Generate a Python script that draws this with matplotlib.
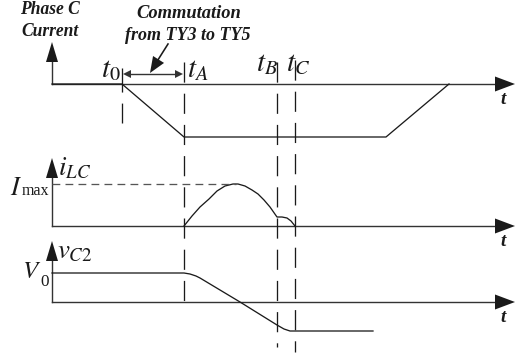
import numpy as np
import matplotlib
matplotlib.use('Agg')
import matplotlib.pyplot as plt

plt.rcParams['mathtext.fontset'] = 'stix'
plt.rcParams['font.family'] = ['Liberation Serif', 'DejaVu Serif']

# time instants (horizontal position on the sheet)
t_axis = 52
t_0, t_A, t_B, t_C = 122, 184, 277, 295
t_end = 515

# baselines of the three traces and tops of their vertical arrows
base = [84, 226, 302]
top = [42, 158, 241]

# phase C current (heights above its baseline)
ic_t = [t_axis, t_0, t_A, 386, 449]
ic_v = [0, 0, -53, -53, 0]

# resonant inductor current i_LC
ilc_t = [t_A, 192, 200, 209, 217, 225, 233, 238, 245, 252, 258, 264, 270, t_B,
         282, 287, 291, t_C]
ilc_v = [0, 10, 19, 27, 35, 40, 42, 42, 40, 36, 32, 26, 19, 9,
         9, 8, 5, 0]
i_max = 42

# capacitor voltage v_C2
vc_t = [t_axis, t_A, 190, 196, 200, 240, t_B, 284, 290, t_C, 373]
vc_v = [29, 29, 28, 26, 24, 0, -23, -27, -29, -29, -29]
v0 = 29

fig = plt.figure(figsize=(519 / 72, 358 / 72), dpi=72)
ax = fig.add_axes([0, 0, 1, 1])
ax.set_xlim(0, 519)
ax.set_ylim(358, 0)
ax.axis('off')

ink = '#1a1a1a'
axis_c = '#333333'


def head(tip, direction, length, width, color=ink):
    tip = np.array(tip, float)
    d = np.array(direction, float)
    d = d / np.hypot(*d)
    n = np.array([-d[1], d[0]])
    b = tip - d * length
    pts = np.array([tip, b + n * width / 2, b - n * width / 2])
    ax.fill(pts[:, 0], pts[:, 1], color=color, lw=0, zorder=5)


# axes of each trace
for yb, yt in zip(base, top):
    ax.plot([t_axis, t_end - 15], [yb, yb], color=axis_c, lw=1.4)
    head((t_end, yb), (1, 0), 20, 15)
    ax.plot([t_axis, t_axis], [yb, yt + 15], color=axis_c, lw=1.4)
    head((t_axis, yt), (0, -1), 20, 12)
    ax.text(503, yb + 16, 't', fontsize=19, fontweight='bold', style='italic',
            ha='center', va='center', color=ink)

# waveforms
ax.plot(ic_t, base[0] - np.array(ic_v), color=ink, lw=1.3)
ax.plot(ilc_t, base[1] - np.array(ilc_v), color=ink, lw=1.3)
ax.plot(vc_t, base[2] - np.array(vc_v), color=ink, lw=1.3)

# I_max reference
ax.plot([t_axis, 236], [base[1] - i_max] * 2, color='#555555', lw=1.3,
        dashes=(6, 4))

# instants
dash = dict(color=ink, lw=1.3, dashes=(15.5, 8.5))
ax.plot([t_0, t_0], [68, 123], color=ink, lw=1.3, dashes=(18.5, 8.5))
ax.plot([t_A, t_A], [62, 308], **dash)
ax.plot([t_B, t_B], [62, 347], **dash)
ax.plot([t_C, t_C], [60, 352], **dash)

# commutation interval
ax.plot([t_0 + 6, t_A - 6], [74, 74], color='#333333', lw=1.4)
head((t_0 + 1, 74), (-1, 0), 8, 8, '#333333')
head((t_A - 1, 74), (1, 0), 8, 8, '#333333')
ax.plot([168, 156], [44, 63], color=ink, lw=1.6)
head((150, 73), (-12, 19), 16, 13)

# labels
bi = dict(fontweight='bold', style='italic', color=ink)
ax.text(50, 10, 'Phase C', ha='center', va='center', fontsize=17.5, **bi)
ax.text(50, 31, 'Current', ha='center', va='center', fontsize=17.5, **bi)
ax.text(189, 14, 'Commutation', ha='center', va='center', fontsize=18.5, **bi)
ax.text(188, 35, 'from TY3 to TY5', ha='center', va='center', fontsize=18, **bi)

m = dict(fontsize=29, color=ink, va='baseline', ha='left')
ax.text(101, 77, r'$t_0$', **m)
ax.text(187, 77, r'$t_A$', **m)
ax.text(256, 71, r'$t_B$', **m)
ax.text(286, 71, r'$t_C$', **m)
ax.text(58, 175, r'$i_{LC}$', fontsize=27, color=ink, va='baseline', ha='left')
ax.text(57, 258, r'$v_{C2}$', fontsize=27, color=ink, va='baseline', ha='left')

# I_max and V_0 level names
ax.text(10, 195, r'$I$', fontsize=26, color=ink, va='baseline', ha='left')
ax.text(22, 195, 'max', fontsize=16, color=ink, va='baseline', ha='left',
        family='Liberation Serif')
ax.text(22, 278, r'$V$', fontsize=25, color=ink, va='baseline', ha='left')
ax.text(40, 286, '0', fontsize=17, color=ink, va='baseline', ha='left',
        family='Liberation Serif')

fig.savefig('out.png', dpi=72)
